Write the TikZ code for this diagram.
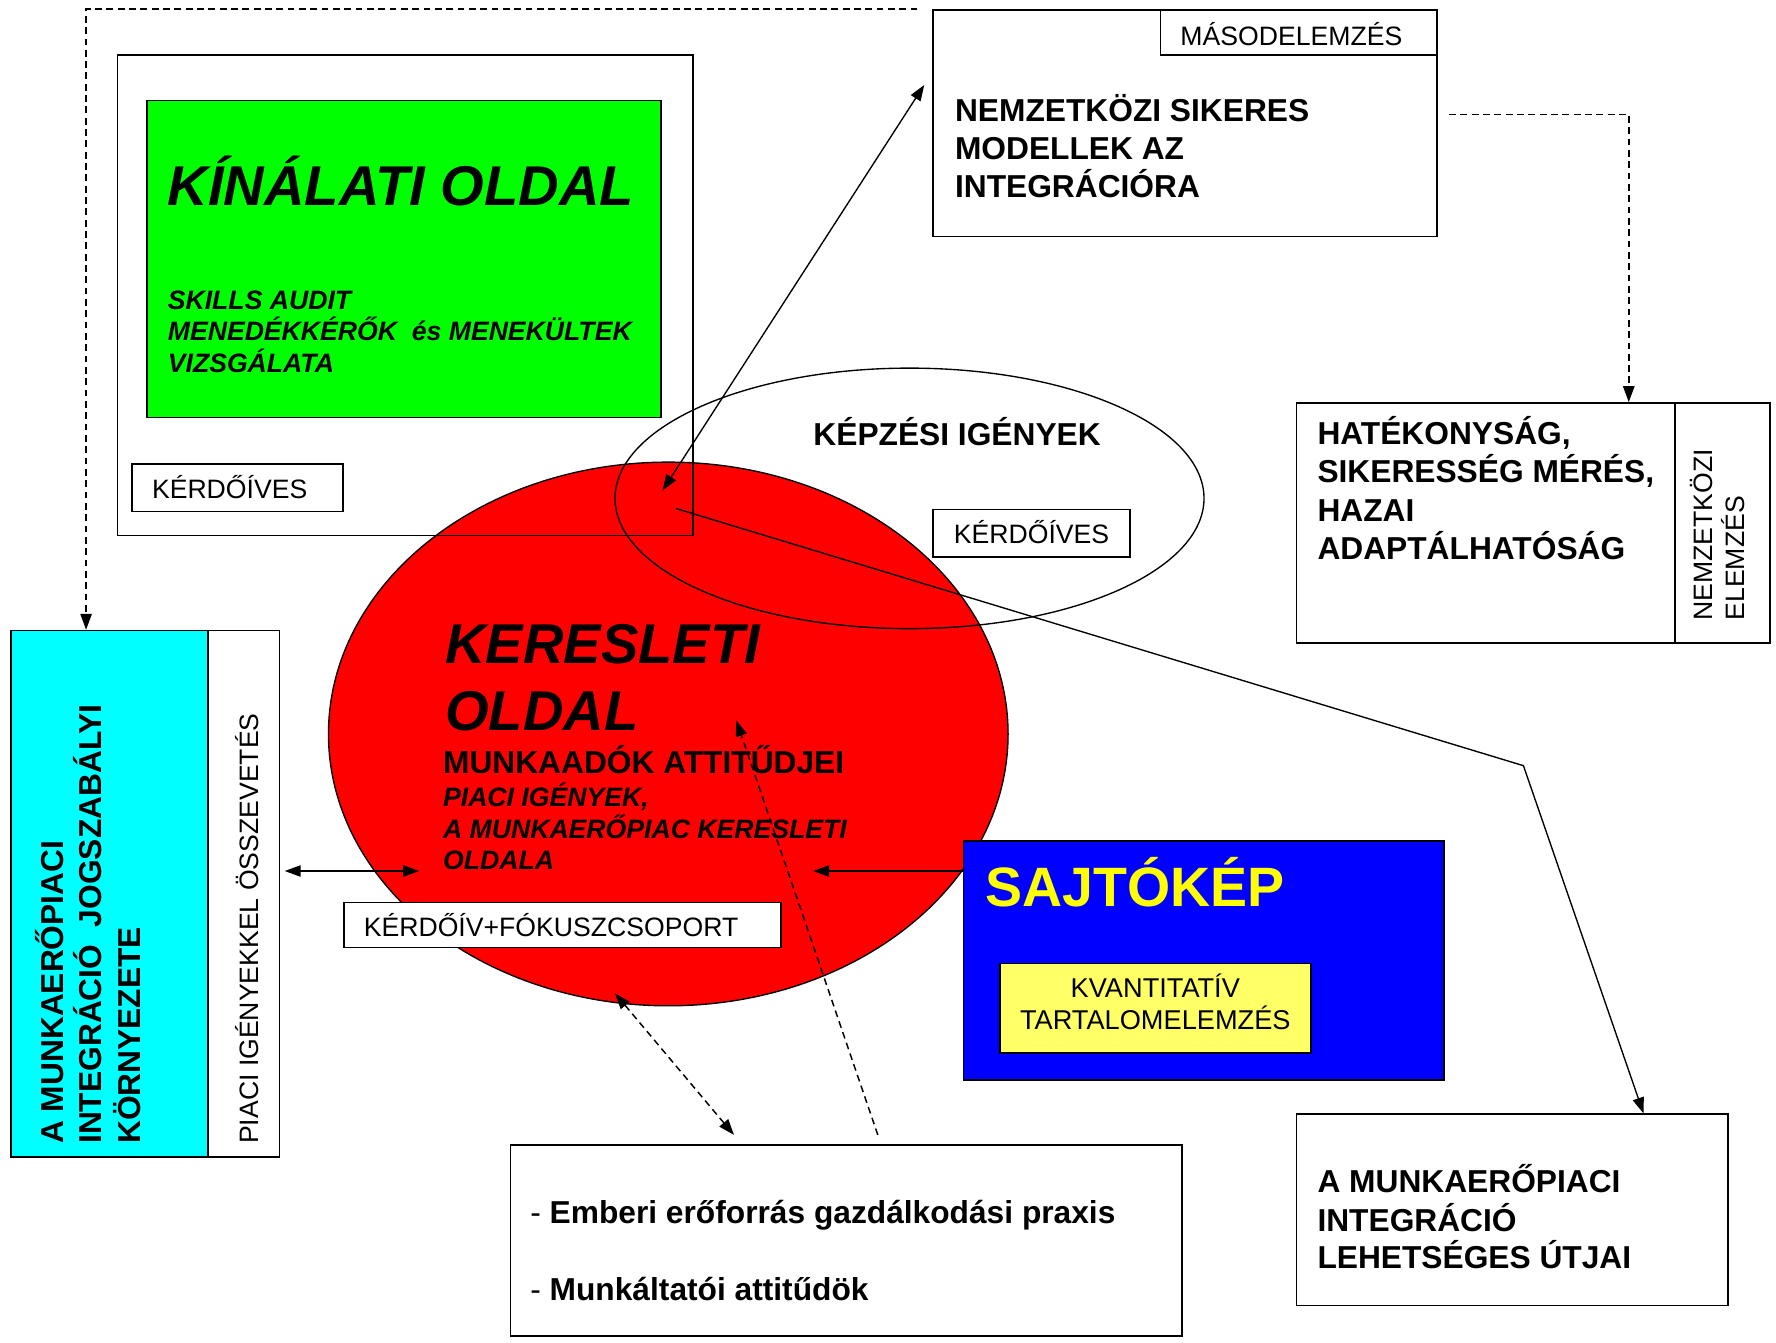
\documentclass[tikz,border=0pt]{standalone}
\usepackage{fontspec}
\setmainfont{Liberation Sans}
\usetikzlibrary{arrows.meta,shapes.geometric}
\definecolor{cGreen}{RGB}{0,255,0}
\definecolor{cRed}{RGB}{255,0,0}
\definecolor{cCyan}{RGB}{0,255,255}
\definecolor{cBlue}{RGB}{0,0,255}
\definecolor{cYellow}{RGB}{255,255,0}
\definecolor{cLightYellow}{RGB}{255,255,102}
\begin{document}
\begin{tikzpicture}[x=1pt,y=-1pt,
  box/.style={draw, line width=1.4pt, inner sep=0pt, anchor=north west},
  txt/.style={anchor=base west, inner sep=0pt},
  rtxt/.style={anchor=base west, inner sep=0pt, rotate=90},
  fbig/.style={font=\fontsize{49.5}{59}\selectfont\bfseries\itshape},
  fmed/.style={font=\fontsize{28}{33.5}\selectfont\bfseries},
  fsm/.style={font=\fontsize{23.5}{28}\selectfont},
  fsbi/.style={font=\fontsize{23.5}{28}\selectfont\bfseries\itshape},
  con/.style={line width=1.2pt},
  dsh/.style={line width=1.3pt, dash pattern=on 6pt off 4pt},
  tip/.style={-{Triangle[length=14pt,width=10pt]}},
  tips/.style={{Triangle[length=14pt,width=10pt]}-{Triangle[length=14pt,width=10pt]}}
]
\useasboundingbox (0,0) rectangle (1568,1185);
\fill[white] (0,0) rectangle (1568,1185);

% supply side
\node[box, fill=cGreen, minimum width=454pt, minimum height=280pt] (green) at (129,88) {};
\node[box, fill=white, minimum width=186pt, minimum height=42pt] (kq1) at (116,409) {};
% demand ellipse
\node[draw, ellipse, fill=cRed, line width=1.2pt, minimum width=600pt, minimum height=480pt, inner sep=0pt] (ker) at (590,648) {};
% outer supply frame (outline over red)
\node[box, minimum width=508pt, minimum height=424pt] (outer) at (103,48) {};
% training needs ellipse
\node[draw, ellipse, line width=1.2pt, minimum width=520pt, minimum height=230pt, inner sep=0pt] (kep) at (803,440) {};
\node[box, fill=white, minimum width=174pt, minimum height=42pt] (kq2) at (823,449) {};
\node[box, fill=white, minimum width=386pt, minimum height=40pt] (kf) at (303,796) {};
% left boxes
\node[box, fill=cCyan, minimum width=174pt, minimum height=465pt] (cyan) at (9,556) {};
\node[box, fill=white, minimum width=63pt, minimum height=465pt] (strip) at (183,556) {};
% top right
\node[box, fill=white, minimum width=445pt, minimum height=200pt] (nemz) at (823,8) {};
\node[box, fill=white, minimum width=244pt, minimum height=40pt] (mas) at (1024,8) {};
\node[box, fill=white, minimum width=334pt, minimum height=212pt] (hat) at (1144,355) {};
\node[box, fill=white, minimum width=84pt, minimum height=212pt] (hatstrip) at (1478,355) {};
% press
\node[box, fill=cBlue, minimum width=424pt, minimum height=211pt] (blue) at (850,742) {};
\node[box, fill=cLightYellow, minimum width=275pt, minimum height=79pt] (yel) at (882,850) {};
% bottom
\node[box, fill=white, minimum width=593pt, minimum height=169pt] (emb) at (450,1010) {};
\node[box, fill=white, minimum width=381pt, minimum height=169pt] (utjai) at (1144,983) {};

% texts
\node[txt, fbig] (t1) at (148,181) {KÍNÁLATI OLDAL};
\node[txt, fsbi] (t2) at (148,273) {SKILLS AUDIT};
\node[txt, fsbi] (t3) at (148,301) {MENEDÉKKÉRŐK\ \ és MENEKÜLTEK};
\node[txt, fsbi] (t4) at (148,329) {VIZSGÁLATA};
\node[txt, fsm] (t5) at (134,440) {KÉRDŐÍVES};
\node[txt, fmed] (t6) at (718,393) {KÉPZÉSI IGÉNYEK};
\node[txt, fsm] (t7) at (842,480) {KÉRDŐÍVES};
\node[txt, fbig] (t8) at (393,586) {KERESLETI};
\node[txt, fbig] (t9) at (393,645) {OLDAL};
\node[txt, fmed] (t10) at (391,683) {MUNKAADÓK ATTITŰDJEI};
\node[txt, fsbi] (t11) at (391,712) {PIACI IGÉNYEK,};
\node[txt, fsbi] (t12) at (391,740) {A MUNKAERŐPIAC KERESLETI};
\node[txt, fsbi] (t13) at (391,768) {OLDALA};
\node[txt, fsm] (t14) at (321,827) {KÉRDŐÍV+FÓKUSZCSOPORT};
\node[txt, fsm] (t15) at (1042,40) {MÁSODELEMZÉS};
\node[txt, fmed] (t16) at (843,107) {NEMZETKÖZI SIKERES};
\node[txt, fmed] (t17) at (843,141) {MODELLEK AZ};
\node[txt, fmed] (t18) at (843,174) {INTEGRÁCIÓRA};
\node[txt, fmed] (t19) at (1163,392) {HATÉKONYSÁG,};
\node[txt, fmed] (t20) at (1163,426) {SIKERESSÉG MÉRÉS,};
\node[txt, fmed] (t21) at (1163,460) {HAZAI};
\node[txt, fmed] (t22) at (1163,494) {ADAPTÁLHATÓSÁG};
\node[rtxt, fsm] (t23) at (1512,548) {NEMZETKÖZI};
\node[rtxt, fsm] (t24) at (1540,548) {ELEMZÉS};
\node[txt, font=\fontsize{49}{59}\selectfont\bfseries, text=cYellow] (t25) at (870,800) {SAJTÓKÉP};
\node[anchor=base, inner sep=0pt, font=\fontsize{24}{28}\selectfont] (t26) at (1020,881) {KVANTITATÍV};
\node[anchor=base, inner sep=0pt, font=\fontsize{24}{28}\selectfont] (t27) at (1020,909) {TARTALOMELEMZÉS};
\node[txt, font=\fontsize{28}{33}\selectfont] (t28) at (468,1080) {- \textbf{Emberi erőforrás gazdálkodási praxis}};
\node[txt, font=\fontsize{28}{33}\selectfont] (t29) at (468,1148) {- \textbf{Munkáltatói attitűdök}};
\node[txt, fmed] (t30) at (1163,1053) {A MUNKAERŐPIACI};
\node[txt, fmed] (t31) at (1163,1087) {INTEGRÁCIÓ};
\node[txt, fmed] (t32) at (1163,1120) {LEHETSÉGES ÚTJAI};
\node[rtxt, fmed] (t33) at (56,1010) {A MUNKAERŐPIACI};
\node[rtxt, fmed] (t34) at (90,1010) {INTEGRÁCIÓ\ \ JOGSZABÁLYI};
\node[rtxt, fmed] (t35) at (124,1010) {KÖRNYEZETE};
\node[rtxt, fsm] (t36) at (228,1010) {PIACI IGÉNYEKKEL ÖSSZEVETÉS};

% connector coordinates
\coordinate (c1) at (585,433);
\coordinate (c2) at (816,75);
\coordinate (c3) at (597,449);
\coordinate (c4) at (1345,676);
\coordinate (c5) at (370,769);
\coordinate (c6) at (718,769);
\coordinate (c7a) at (543,877);
\coordinate (c7b) at (648,1002);
\coordinate (c8a) at (775,1002);
\coordinate (c8b) at (650,636);
\path (strip.east |- c5) ++(4,0) coordinate (c5b);

% connectors
\draw[dsh, tip] ([xshift=-13pt]nemz.north west) -| ([xshift=67pt]cyan.north west);
\draw[dsh, tip] ([xshift=10pt,yshift=-93pt]nemz.north east) -| ([xshift=294pt]hat.north west);
\draw[con, tips] (c1) -- (c2);
\draw[con, tip] (c3) -- (c4) -- ([xshift=307pt]utjai.north west);
\draw[con, tips] (c5b) -- (c5);
\draw[con, tip] (blue.west |- c6) -- (c6);
\draw[dsh, tips] (c7a) -- (c7b);
\draw[dsh, tip] (c8a) -- (c8b);
\end{tikzpicture}
\end{document}
